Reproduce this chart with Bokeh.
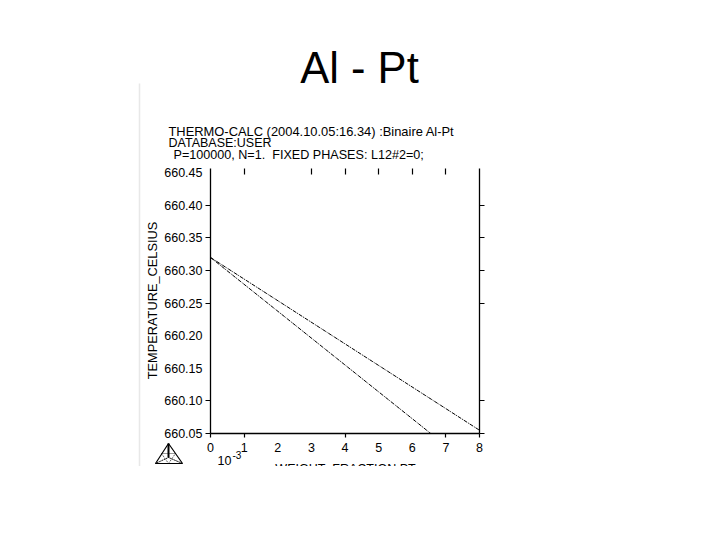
from bokeh.plotting import figure
from bokeh.models import (LinearAxis, FixedTicker, Label, PolyAnnotation, Range1d)
from bokeh.embed import file_html
from bokeh.resources import INLINE

slide_title = "Al - Pt"
header_lines = ["THERMO-CALC (2004.10.05:16.34) :Binaire Al-Pt",
                "DATABASE:USER",
                "P=100000, N=1.\u00a0\u00a0FIXED PHASES: L12#2=0;"]
y_title = "TEMPERATURE_CELSIUS"
x_title = "WEIGHT_FRACTION PT"
y_labels = [660.05, 660.10, 660.15, 660.20, 660.25, 660.30, 660.35, 660.40, 660.45]
y_marked = [660.05, 660.10, 660.25, 660.30, 660.35, 660.40]
x_labels = [0, 1, 2, 3, 4, 5, 6, 7, 8]
x_top_marks = [1, 3, 4, 5, 6, 7]
x_bottom_marks = [0, 1, 4, 7, 8]
upper_x = [0, 8.0]
upper_t = [660.32, 660.055]
lower_x = [0, 6.55]
lower_t = [660.32, 660.05]

W, H = 704, 466
L, R, T, B = 210, 479, 168, 433
FONT = "Liberation Sans"
x_per_px = 8 / (R - L)
y_per_px = 0.05 / 32.6
y_top = 660.05 + (B - T) * y_per_px

p = figure(width=W, height=H, output_backend="svg", toolbar_location=None,
           x_range=Range1d(-L * x_per_px, (W - L) * x_per_px),
           y_range=Range1d(660.05 - (H - B) * y_per_px, 660.05 + B * y_per_px),
           x_axis_type=None, y_axis_type=None,
           min_border_left=0, min_border_right=0, min_border_top=0, min_border_bottom=0)
p.outline_line_color = None
p.grid.visible = False

def style(ax, ticks=None):
    ax.axis_line_color = "black"
    ax.axis_line_width = 1.3
    ax.major_tick_line_color = "black"
    ax.major_tick_line_width = 1.2
    ax.major_tick_in = 0
    ax.major_tick_out = 0
    ax.minor_tick_line_color = None
    ax.major_label_text_color = "black"
    ax.major_label_text_font = FONT
    ax.major_label_text_font_size = "12.5px"
    if ticks is not None:
        ax.major_label_overrides = {t: "" for t in ticks}

lab = LinearAxis(ticker=FixedTicker(ticks=y_labels), fixed_location=0)
style(lab)
lab.axis_line_color = None
lab.major_tick_line_color = None
lab.major_label_standoff = 8
lab.major_label_overrides = {v: f"{v:.2f}" for v in y_labels}
p.add_layout(lab, "left")

lm = LinearAxis(ticker=FixedTicker(ticks=y_marked), fixed_location=0, bounds=(660.05, y_top))
style(lm, y_marked)
lm.major_tick_out = 5
p.add_layout(lm, "left")

rm = LinearAxis(ticker=FixedTicker(ticks=y_marked), fixed_location=8, bounds=(660.05, y_top))
style(rm, y_marked)
rm.major_tick_out = 5
p.add_layout(rm, "right")

top = LinearAxis(ticker=FixedTicker(ticks=x_top_marks), fixed_location=y_top)
style(top, x_top_marks)
top.axis_line_color = None
top.major_tick_in = 6
p.add_layout(top, "above")

bot = LinearAxis(ticker=FixedTicker(ticks=x_labels), fixed_location=660.05)
style(bot)
bot.axis_line_color = None
bot.major_tick_line_color = None
bot.major_label_standoff = 9
p.add_layout(bot, "below")

bm = LinearAxis(ticker=FixedTicker(ticks=x_bottom_marks), fixed_location=660.05, bounds=(0, 8))
style(bm, x_bottom_marks)
bm.major_tick_out = 4
p.add_layout(bm, "below")

p.line(upper_x, upper_t, line_color="black", line_width=1, line_dash="4 1 1 1")
p.line(lower_x, lower_t, line_color="black", line_width=1, line_dash="4 1 1 1")

def text(s, x, y, size, align="left", baseline="middle", **kw):
    p.add_layout(Label(x=x, y=H-y, x_units="screen", y_units="screen", text=s,
                       text_font=FONT, text_font_size=size, text_align=align,
                       text_baseline=baseline, text_color="black", **kw))

text(slide_title, 359, 67, "43.5px", "center")
text(header_lines[0], 168, 131, "12.9px")
text(header_lines[1], 168, 142, "12.5px")
text(header_lines[2], 173, 154, "12.6px")
text("10", 217, 460, "12.5px")
text("-3", 232, 454, "10px")
text(y_title, 152, 300, "12.8px", "center", angle=90, angle_units="deg")
text(x_title, 345, 461, "12.5px", "center", "top")

def poly(xs, ys, **kw):
    p.add_layout(PolyAnnotation(xs=xs, ys=[H-b for b in ys], xs_units="screen", ys_units="screen",
                                fill_alpha=0, line_alpha=1, line_color=kw.pop("line_color", "black"), **kw))
poly([139, 139], [83, 466], line_color="#e8e8e8", line_width=1.5)
poly([168, 155, 182], [443, 463, 463], line_width=1.2)
poly([168, 168], [443, 457], line_width=2)
poly([168, 155, 168, 182], [457, 463, 457, 463], line_width=0.8, line_dash="1 1")
poly([161, 175, 168], [453, 453, 463], line_width=0.8, line_dash="1 1")

open("out.html", "w").write(file_html(p, INLINE))
